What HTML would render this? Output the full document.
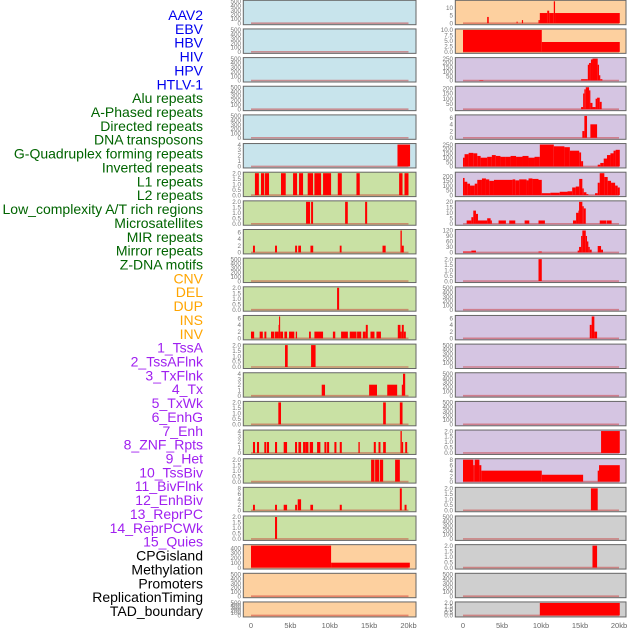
<!DOCTYPE html>
<html><head><meta charset="utf-8"><style>
body{margin:0;background:#fff;}
svg{display:block;font-family:"Liberation Sans",sans-serif;}
</style></head><body>
<svg id="c" width="630" height="630" viewBox="0 0 630 630"></svg>
<script>
const labels=["AAV2","EBV","HBV","HIV","HPV","HTLV-1","Alu repeats","A-Phased repeats","Directed repeats","DNA transposons","G-Quadruplex forming repeats","Inverted repeats","L1 repeats","L2 repeats","Low_complexity A/T rich regions","Microsatellites","MIR repeats","Mirror repeats","Z-DNA motifs","CNV","DEL","DUP","INS","INV","1_TssA","2_TssAFlnk","3_TxFlnk","4_Tx","5_TxWk","6_EnhG","7_Enh","8_ZNF_Rpts","9_Het","10_TssBiv","11_BivFlnk","12_EnhBiv","13_ReprPC","14_ReprPCWk","15_Quies","CPGisland","Methylation","Promoters","ReplicationTiming","TAD_boundary"];
const labelGroups=[6,13,5,15,5];
const groupColors=["#0000ee","#006400","#ffa500","#a020f0","#000000"];
const xTickVals=[0,5,10,15,20];
const xTickLabels=["0","5kb","10kb","15kb","20kb"];
const leftColors=["b","b","b","b","b","b","g","g","g","g","g","g","g","g","g","g","g","g","g","o","o","o"];
const rightColors=["o","o","p","p","p","p","p","p","p","p","p","p","p","p","p","p","p","y","y","y","y","y"];
const leftYMax=[500,500,500,500,500,4,2,2,6.5,500,2,6.5,2,4,2,4,2,8,2,450,500,500];
const rightYMax=[14,10,250,210,6.5,250,230,20,120,2,500,6.5,500,500,500,2,8,2,500,2,500,2];
const leftTicks=[
"E","E","E","E","E",["0","1","2","3","4"],"T2","T2",["0","2","4","6"],"E","T2",["0","2","4","6"],"T2",["0","1","2","3","4"],"T2",["0","1","2","3","4"],"T2",["0","2","4","6","8"],"T2",["0","100","200","300","400"],"E","E"];
const rightTicks=[
["0","5","10"],["0.0","2.5","5.0","7.5","10.0"],["0","50","100","150","200","250"],["0","50","100","150","200"],["0","2","4","6"],["0","50","100","150","200","250"],["0","50","100","150","200"],["0","5","10","15","20"],["0","30","60","90","120"],"T2","E",["0","2","4","6"],"E","E","E","T2",["0","2","4","6","8"],"T2","E","T2","E","T2"];
const leftBars=[[],[],[],[],[],
[[18.6,20.2,4]],
[[0.5,1.0,2],[1.27,1.69,2],[1.78,2.29,2],[3.81,4.41,2],[5.34,5.85,2],[6.1,6.61,2],[7.2,7.88,2],[8.05,8.9,2],[9.15,10.17,2],[11.02,11.53,2],[13.39,13.81,2],[18.81,19.24,2],[19.49,20.0,2]],
[[6.99,7.5,2],[7.63,7.88,2],[11.95,12.29,2],[14.49,14.75,2]],
[[0.25,0.5,2],[3.05,3.3,2],[5.6,5.85,2],[6.0,6.35,2],[7.55,7.9,2],[11.27,11.5,2],[16.7,17.1,2],[18.98,19.15,6.5],[19.15,19.4,2]],
[],
[[10.93,11.19,2]],
[[0,0.4,2],[1.1,1.5,2],[1.7,1.95,2],[2.54,2.97,2],[3.05,3.5,2],[3.5,3.56,4],[3.56,3.7,6.5],[3.7,4.07,2],[4.24,4.58,2],[4.83,5.5,2],[5.68,5.85,2],[7.37,7.6,2],[8.05,9.15,2],[10.4,10.7,2],[11.44,12.3,2],[12.54,13.4,2],[13.47,14,2],[14.2,14.58,2],[14.58,14.83,4],[15.17,15.68,2],[15.93,16.5,2],[18.64,18.98,4],[18.98,19.15,2],[19.15,19.4,4],[19.4,19.66,2]],
[[4.32,4.66,2],[7.63,8.2,2]],
[[8.98,9.4,2],[15,16.0,2],[17.3,18.56,2],[19.15,19.3,2],[19.3,19.58,4]],
[[3.47,3.81,2],[16.78,17.12,2],[18.9,19.24,2]],
[[0.25,0.51,2],[0.76,1.02,2],[1.69,1.95,2],[2.03,2.29,2],[3.05,3.31,2],[4.15,4.58,2],[5.59,5.85,2],[6.02,6.36,2],[6.61,6.95,2],[6.95,7.29,2],[7.46,7.88,2],[8.39,8.81,2],[9.32,9.58,2],[9.66,9.92,2],[10.59,10.85,2],[11.27,11.53,2],[13.64,13.81,2],[15.59,15.85,2],[16.19,16.44,2],[16.78,17.12,2],[18.98,19.15,4],[19.15,19.32,2],[19.58,19.83,2]],
[[15.25,15.68,2],[15.76,16.27,2],[16.36,16.78,2],[18.3,18.9,2]],
[[0.25,0.5,2],[3.05,3.3,2],[4.15,4.58,2],[5.6,5.85,2],[5.93,6.36,4],[7.54,7.88,2],[11.27,11.53,2],[18.9,19.15,8],[19.5,19.75,2]],
[[3.05,3.31,2]],
[[0,10.17,450],[10.17,20.17,100]],
[],[]];
const rightBars=[
[[3.1,3.3,4],[6.87,7.0,1],[7.55,7.7,2],[9.68,9.85,2],[9.85,10.8,6.5],[10.8,11.05,8],[11.05,11.64,6.5],[11.64,11.8,14],[11.8,20.1,6.5]],
[[0,10.1,10],[10.1,20.1,4.5]],
[[2.1,2.6,5],[15.14,16.0,15],[16.0,16.16,180],[16.16,16.4,200],[16.4,16.6,240],[16.6,17.27,250],[17.27,17.44,180],[17.44,17.6,60],[17.6,17.87,15]],
[[15.14,15.4,20],[15.4,15.56,150],[15.56,15.74,190],[15.74,16.16,210],[16.16,16.33,180],[16.33,16.6,60],[16.6,17.0,20],[17.0,17.19,100],[17.19,17.53,110],[17.53,17.78,70]],
[[15.3,15.56,2],[15.56,15.9,6.5],[16.33,17.19,4]],
"S",
"S",
"S",
[[0,1.07,5],[1.07,1.66,10],[9.68,10.1,5],[14.7,14.88,10],[14.88,15.14,30],[15.14,15.3,90],[15.3,15.74,120],[15.74,15.9,90],[15.9,16.07,60],[16.07,16.25,30],[16.25,16.5,15],[17.27,17.7,35],[17.7,17.95,15]],
[[9.68,10.1,2]],
[],
[[16.25,16.5,4],[16.5,16.84,6.5],[16.84,17.19,2]],
[],[],[],
[[17.7,20.1,2]],
"S",
[[16.4,17.27,2]],
[],
[[16.6,17.19,2]],
[],
[[9.85,20.1,2]]];
const stepKb5=[0,0.2,0.72,1.32,1.83,2.26,3.1,3.7,4.2,4.8,5.4,6.1,6.8,7.63,8.4,9.17,9.85,11.64,13.0,13.7,14.9,15.14,15.4,17.27,17.6,18.04,18.46,18.9,19.3,19.57,20.1];
const stepVal5=[100,140,155,150,120,100,110,130,120,110,110,120,110,120,100,110,250,230,220,180,160,60,0,20,40,90,130,150,180,190];
const stepKb6=[0,0.2,0.55,0.9,1.5,1.83,2.43,2.94,3.37,3.97,6.36,6.7,7.2,8.15,8.4,8.9,9.68,10.1,11.2,12.4,13.4,14.0,14.45,14.9,15.3,15.48,15.82,16.07,16.93,17.27,17.53,18.12,18.55,18.98,19.5,19.83,20.1];
const stepVal6=[180,140,120,100,120,160,175,165,150,160,165,155,165,155,175,170,160,20,25,35,40,80,90,170,70,30,10,0,20,130,230,190,150,130,100,80];
const stepKb7=[0,0.47,1.07,1.32,1.66,1.92,3.1,3.54,3.7,4.56,5.5,5.93,6.7,7.9,8.5,9.68,10.5,14.1,14.5,14.8,14.88,15.3,15.48,15.74,17.53,18.4,18.46,19.05,20.1];
const stepVal7=[0,3,6,12,9,3,5,3,0,3,0,3,0,3,0,3,0,3,10,12,20,16,14,0,3,0,3,0];
const stepKb16=[0,1.32,1.5,2.1,2.35,10.1,15.4,17.27,17.44,20.1];
const stepVal16=[8,6,8,6,4,2.5,0,4,6];
const rightSteps={5:[stepKb5,stepVal5],6:[stepKb6,stepVal6],7:[stepKb7,stepVal7],16:[stepKb16,stepVal16]};

const fills={b:"#c8e4ec",g:"#c9e1a4",o:"#fdd09f",p:"#d5c5e2",y:"#cfcfcf"};
const NS="http://www.w3.org/2000/svg";
const svg=document.getElementById('c');
function mk(t,a,p){const e=document.createElementNS(NS,t);for(const k in a)e.setAttribute(k,a[k]);(p||svg).appendChild(e);return e;}
const cols=[{bx:243.3,bw:172.7,x0:251,x1:408.5,tx:241},{bx:455.3,bw:170.7,x0:463,x1:619,tx:453}];
function rowTop(i){return 0.3+28.65*i;}
function rowH(i){return i==21?15:24.4;}
function drawCol(ci,colors,ymaxs,ticks,bars){
  const c=cols[ci];
  const xs=k=>c.x0+(c.x1-c.x0)*k/20;
  for(let i=0;i<22;i++){
    const top=rowTop(i),h=rowH(i),yb=top+h-1.5,yt=top+1;
    const ym=ymaxs[i];
    const ys=v=>yb-(yb-yt)*v/ym;
    const g=mk('g',{});
    
    
    const bg=mk('rect',{x:c.bx,y:top,width:c.bw,height:h,fill:fills[colors[i]]},g);
    
    
    const bl=mk('line',{x1:xs(0),x2:xs(20),y1:yb,y2:yb,stroke:"rgba(200,40,40,0.45)","stroke-width":1.6},g);
    
    
    let segs=[];
    if(bars[i]==="S"){const s=rightSteps[i];for(let j=0;j<s[1].length;j++)segs.push([s[0][j],s[0][j+1],s[1][j]]);}
    else segs=bars[i];
    segs.forEach(s=>{if(s[2]<=0)return;
      const r=mk('rect',{x:xs(s[0]),y:ys(s[2]),width:Math.max(0.8,xs(s[1])-xs(s[0])),height:yb-ys(s[2]),fill:"#ff0000"},g);
      
      
    });
    mk('rect',{x:c.bx,y:top,width:c.bw,height:h,fill:"none",stroke:"#666","stroke-width":1},g);
    let tl=ticks[i],tv;
    if(tl==="E"){tl=["0","100","200","300","400","500"];}
    else if(tl==="T2"){tl=["0.0","0.5","1.0","1.5","2.0"];}
    tl.forEach(t=>{
      const v=parseFloat(t);
      const tt=mk('text',{x:c.tx,y:ys(v)+2.2,"text-anchor":"end","font-size":6.3,fill:"#777"},g);
      tt.textContent=t;
      
      
    });
  }
  xTickVals.forEach((v,j)=>{
    const t=mk('text',{x:xs(v),y:628,"text-anchor":"middle","font-size":7.5,fill:"#666"});
    t.textContent=xTickLabels[j];
    
    
  });
}
drawCol(0,leftColors,leftYMax,leftTicks,leftBars);
drawCol(1,rightColors,rightYMax,rightTicks,rightBars);
let gi=0,cnt=0;
labels.forEach((l,i)=>{
  while(cnt>=labelGroups[gi]){cnt=0;gi++;}
  cnt++;
  const t=mk('text',{x:203,y:20+13.86*i,"text-anchor":"end","font-size":14,fill:groupColors[gi]});
  t.textContent=l;
  
  
});
</script>
</body></html>
